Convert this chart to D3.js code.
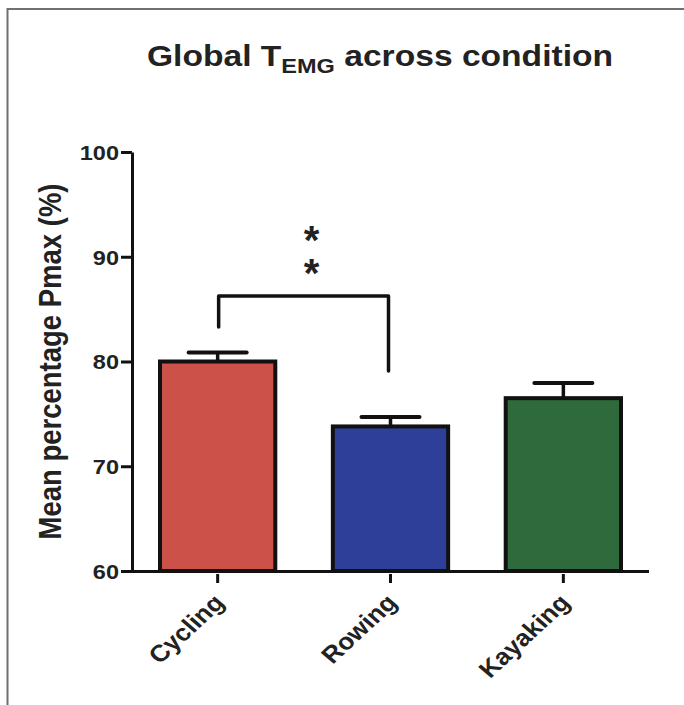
<!DOCTYPE html>
<html><head><meta charset="utf-8">
<script src="https://cdn.jsdelivr.net/npm/d3@7"></script>
<style>body{margin:0;background:#fff;position:relative}svg{display:block}
.stars{position:absolute;font-family:'Liberation Sans',Arial,sans-serif;font-weight:bold;font-size:40px;line-height:33px;color:#222;text-align:center;width:40px;margin:0;padding:0}</style>
</head><body>
<script>
const categories = ["Cycling", "Rowing", "Kayaking"];
const means = [80.0, 73.8, 76.5];
const sems = [0.85, 0.9, 1.45];
const colors = ["#cc5148", "#2e3f9a", "#2f6a3c"];
const yTicks = [60, 70, 80, 90, 100];
const sigBracket = {from: "Cycling", to: "Rowing", label: ["*", "*"]};

const W = 684, H = 705;
const SX = 1.12; // horizontal stretch of the reference typography
const svg = d3.select("body").append("svg").attr("width", W).attr("height", H);
const font = "'Liberation Sans', Arial, sans-serif";

// frame
svg.append("path").attr("d", `M7.5,${H} V9 H${W}`).attr("fill","none").attr("stroke","#707070").attr("stroke-width",2);

const x0 = 132, x1 = 649, yTop = 152, yBot = 571;
const y = d3.scaleLinear().domain([60, 100]).range([yBot, yTop]);
const x = d3.scaleBand().domain(categories).range([x0, x1]).paddingInner(0.333).paddingOuter(0.162);

// bars
const g = svg.append("g");
g.selectAll("rect.bar").data(categories).join("rect")
  .attr("x", d => x(d)).attr("y", (d,i) => y(means[i]))
  .attr("width", x.bandwidth()).attr("height", (d,i) => y(60) - y(means[i]))
  .attr("fill", (d,i) => colors[i]).attr("stroke", "#111").attr("stroke-width", 4);

// error bars
categories.forEach((c,i) => {
  const cx = x(c) + x.bandwidth()/2;
  g.append("line").attr("x1", cx).attr("x2", cx).attr("y1", y(means[i])).attr("y2", y(means[i]+sems[i]))
    .attr("stroke","#111").attr("stroke-width",3.5);
  g.append("line").attr("x1", cx-29).attr("x2", cx+29).attr("y1", y(means[i]+sems[i])).attr("y2", y(means[i]+sems[i]))
    .attr("stroke","#111").attr("stroke-width",4).attr("stroke-linecap","round");
});

// y axis
const yAxis = svg.append("g").attr("transform", `translate(${x0},0)`)
  .call(d3.axisLeft(y).tickValues(yTicks).tickSize(11).tickSizeOuter(0));
yAxis.select(".domain").attr("stroke","#111").attr("stroke-width",3);
yAxis.selectAll(".tick line").attr("stroke","#111").attr("stroke-width",3);
yAxis.selectAll(".tick text").attr("font-family",font).attr("font-weight","bold").attr("font-size",21).attr("fill","#222")
  .attr("x",0).attr("dy","0.35em").attr("transform", `translate(-13,0) scale(${SX},1)`);

// x axis
const xAxis = svg.append("g").attr("transform", `translate(0,${yBot})`)
  .call(d3.axisBottom(x).tickSize(12).tickSizeOuter(0));
xAxis.select(".domain").attr("d", `M${x0},0.5H${x1}`).attr("stroke","#111").attr("stroke-width",3);
xAxis.selectAll(".tick line").attr("stroke","#111").attr("stroke-width",3).attr("y1",3);
xAxis.selectAll(".tick text").attr("font-family",font).attr("font-weight","bold").attr("font-size",23.5).attr("fill","#222")
  .attr("text-anchor","end").attr("dy",0).attr("y",0)
  .attr("transform",`translate(8,33) scale(${SX},1) rotate(-46)`);

// significance bracket
const cx = c => x(c) + x.bandwidth()/2;
const bx1 = cx(sigBracket.from) + 1, bx2 = cx(sigBracket.to) - 2;
svg.append("path").attr("d", `M${bx1},${y(83.3)} V${y(86.25)} H${bx2} V${y(79.1)}`)
  .attr("fill","none").attr("stroke","#111").attr("stroke-width",3.5).attr("stroke-linejoin","round").attr("stroke-linecap","round");
// stacked asterisks as one text block
const starX = (bx1 + bx2) / 2 + 8;
d3.select("body").append("div").attr("class","stars")
  .style("left", (starX - 20) + "px").style("top", "224px")
  .html(sigBracket.label.join("<br>"));

// y label
svg.append("text").attr("transform", `translate(61,${(yTop+yBot)/2}) scale(${SX},1) rotate(-90)`).attr("text-anchor","middle")
  .attr("font-family",font).attr("font-weight","bold").attr("font-size",27.5).attr("fill","#222").text("Mean percentage Pmax (%)");

// title
const t = svg.append("text").attr("transform", `translate(380,66) scale(${SX},1)`).attr("text-anchor","middle")
  .attr("font-family",font).attr("font-weight","bold").attr("font-size",30).attr("fill","#222");
t.append("tspan").text("Global T");
t.append("tspan").attr("font-size",21).attr("dy",7).text("EMG");
t.append("tspan").attr("dy",-7).text(" across condition");
</script>
</body></html>
